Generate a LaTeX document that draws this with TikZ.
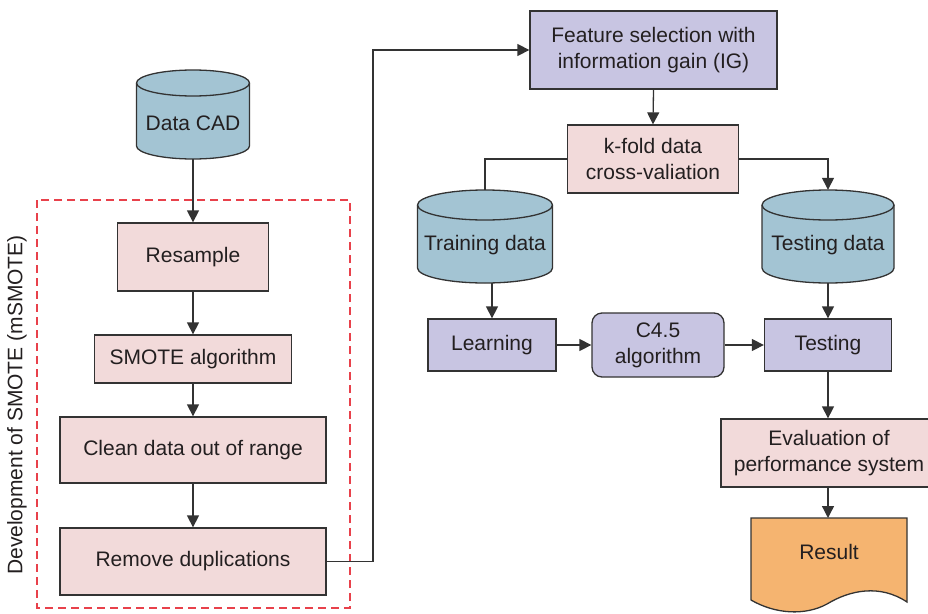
\documentclass[tikz,border=0pt]{standalone}
\usepackage{fontspec}
\setmainfont{Liberation Sans}
\usetikzlibrary{arrows.meta}
\definecolor{pinkf}{HTML}{F2DADA}
\definecolor{purpf}{HTML}{C8C5E2}
\definecolor{cylf}{HTML}{A3C4D3}
\definecolor{orangef}{HTML}{F5B470}
\definecolor{redd}{HTML}{E8414B}
\definecolor{linec}{HTML}{333333}
\definecolor{textc}{HTML}{231F20}
\newcommand\mycyl[6]{%
  \path[fill=cylf,draw=linec,line width=1.3pt]
    ({#2-#5},{#3+#6}) -- ({#2-#5},{#4-#6})
    arc[start angle=180,end angle=360,x radius=#5pt,y radius=#6pt]
    -- ({#2+#5},{#3+#6})
    arc[start angle=0,end angle=180,x radius=#5pt,y radius=#6pt] -- cycle;
  \draw[draw=linec,line width=1.3pt] ({#2-#5},{#3+#6})
    arc[start angle=180,end angle=360,x radius=#5pt,y radius=#6pt];
  \node[inner sep=0pt,minimum width={2*#5pt},minimum height={(#4-#3)*1pt}] (#1) at ({#2},{(#3+#4)/2}) {};
}
\begin{document}
\begin{tikzpicture}[x=1pt,y=-1pt,
  every node/.style={font=\fontsize{21}{26}\selectfont,text=textc,align=center},
  boxbase/.style={draw=linec,line width=1.3pt,inner sep=0pt},
  pinkbox/.style={boxbase,fill=pinkf},
  purpbox/.style={boxbase,fill=purpf},
  conn/.style={draw=linec,line width=1.3pt},
  arr/.style={conn,-{Triangle[length=12pt,width=12pt]}}]
\clip (0,0) rectangle (928,613);
\useasboundingbox (0,0) rectangle (928,613);

% dashed group
\draw[redd,line width=1.3pt,dash pattern=on 8pt off 5pt] (37,200) rectangle (350,608);
\node[rotate=90] (grouplabel) at (17,405) {Development of SMOTE (mSMOTE)};

% cylinders
\mycyl{cad}{193}{70}{159}{56.5}{13}
\node (cadt) at (193,123) {Data CAD};
\mycyl{train}{485}{190}{283}{67.5}{15}
\node (traint) at (485,245) {Training data};
\mycyl{testd}{828}{190}{283}{66}{15}
\node (testdt) at (828,245) {Testing data};

% left column
\node[pinkbox,minimum width=151pt,minimum height=68pt] (resample) at (193,257) {Resample};
\node[pinkbox,minimum width=197pt,minimum height=48pt] (smote) at (193,359) {SMOTE algorithm};
\node[pinkbox,minimum width=266pt,minimum height=66pt] (clean) at (193,450) {Clean data out of range};
\node[pinkbox,minimum width=266pt,minimum height=67pt] (remove) at (193,561.5) {Remove duplications};

% right part
\node[purpbox,minimum width=247pt,minimum height=78pt] (feat) at (653.5,50) {Feature selection with\\information gain (IG)};
\node[pinkbox,minimum width=171pt,minimum height=68pt] (kfold) at (653,159) {k-fold data\\cross-valiation};
\node[purpbox,minimum width=128pt,minimum height=52pt] (learn) at (492,345) {Learning};
\node[purpbox,rounded corners=10pt,minimum width=132pt,minimum height=64pt] (c45) at (658,345) {C4.5\\algorithm};
\node[purpbox,minimum width=127pt,minimum height=52pt] (testing) at (828,345) {Testing};
\node[pinkbox,minimum width=216pt,minimum height=68pt] (eval) at (829,453) {Evaluation of\\performance system};
\path[fill=orangef,draw=linec,line width=1.3pt]
  (751,518) -- (907,518) -- (907,602)
  .. controls (880,584) and (850,590) .. (827,604)
  .. controls (805,616) and (775,614) .. (751,600) -- cycle;
\node (result) at (829,552) {Result};
\coordinate (resulttop) at (828,518);

% connectors
\draw[arr] (cad.south) -- (resample.north);
\draw[arr] (resample.south) -- (smote.north);
\draw[arr] (smote.south) -- (clean.north);
\draw[arr] (clean.south) -- (remove.north);
\coordinate (bendA) at (373,561.5);
\coordinate (bendB) at (373,50);
\draw[arr] (remove.east) -- (bendA) -- (bendB) -- (feat.west);
\draw[arr] (feat.south) -- (kfold.north);
\draw[conn] (kfold.west) -| (train.north);
\draw[arr] (kfold.east) -| (testd.north);
\draw[arr] (train.south -| learn.north) -- (learn.north);
\draw[arr] (testd.south) -- (testing.north);
\draw[arr] (learn.east) -- (c45.west);
\draw[arr] (c45.east) -- (testing.west);
\draw[arr] (testing.south) -- (testing.south |- eval.north);
\draw[arr] (testing.south |- eval.south) -- (resulttop);
\end{tikzpicture}
\end{document}
